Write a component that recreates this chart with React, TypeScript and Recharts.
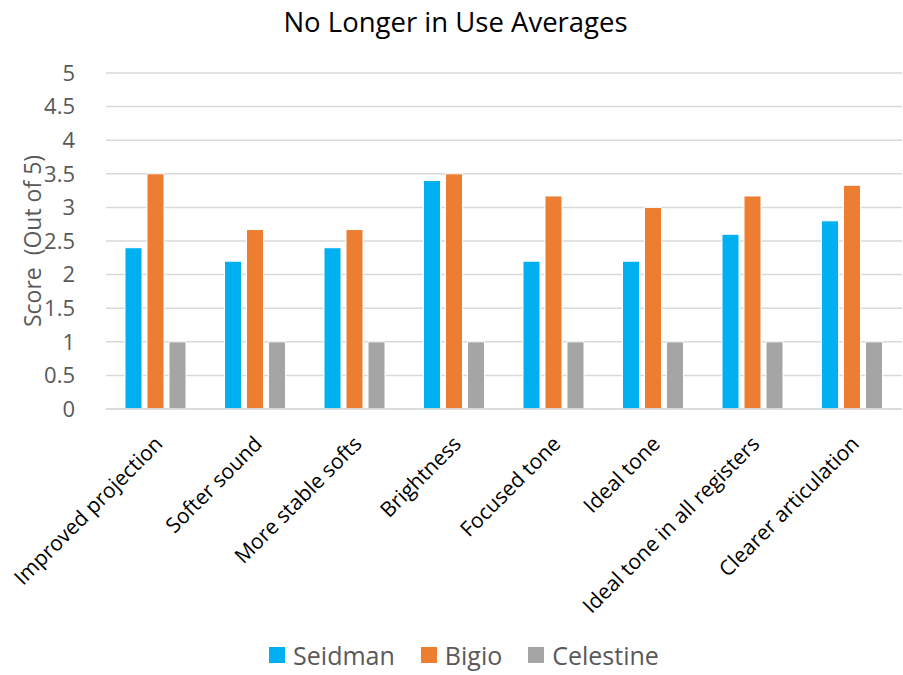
import React from 'react';
import { BarChart, Bar, XAxis, YAxis, CartesianGrid, Legend, Label } from 'recharts';

const categories = [
  'Improved projection', 'Softer sound', 'More stable softs', 'Brightness',
  'Focused tone', 'Ideal tone', 'Ideal tone in all registers', 'Clearer articulation',
];
const seidman = [2.4, 2.2, 2.4, 3.4, 2.2, 2.2, 2.6, 2.8];
const bigio = [3.5, 2.67, 2.67, 3.5, 3.17, 3.0, 3.17, 3.33];
const celestine = [1, 1, 1, 1, 1, 1, 1, 1];
const yTicks = [0, 0.5, 1, 1.5, 2, 2.5, 3, 3.5, 4, 4.5, 5];

const SERIES = [
  { key: 'Seidman', color: '#00b0f0' },
  { key: 'Bigio', color: '#ed7d31' },
  { key: 'Celestine', color: '#a5a5a5' },
];

const data = categories.map((c, i) => ({
  name: c,
  Seidman: seidman[i],
  Bigio: bigio[i],
  Celestine: celestine[i],
}));

const FONT = '"Open Sans", "Noto Sans", sans-serif';

// rotated category labels, end of text sits just under the tick
function XTick(props: any) {
  const { x, y, payload } = props;
  return (
    <g transform={`translate(${x + 3},${y + 23})`}>
      <text textAnchor="end" transform="rotate(-45)" dy="0.35em" fill="#000" fontSize={21} fontFamily={FONT}>
        {payload.value}
      </text>
    </g>
  );
}

function YTick(props: any) {
  const { x, y, payload } = props;
  return (
    <text x={x - 23} y={y} dy="0.35em" textAnchor="end" fill="#595959" fontSize={22} fontFamily={FONT}>
      {payload.value}
    </text>
  );
}

function LegendBox() {
  return (
    <div style={{ display: 'flex', justifyContent: 'center', alignItems: 'center', height: 40, paddingLeft: 26, boxSizing: 'border-box', fontFamily: FONT, fontSize: 25, color: '#595959' }}>
      {SERIES.map((s) => (
        <div key={s.key} style={{ display: 'flex', alignItems: 'center', margin: '0 13px' }}>
          <span style={{ width: 16, height: 16, background: s.color, display: 'inline-block', marginRight: 8 }} />
          <span>{s.key}</span>
        </div>
      ))}
    </div>
  );
}

export default function App() {
  return (
    <div style={{ position: 'absolute', left: 0, top: 0, width: 903, height: 675, background: '#fff' }}>
      <div style={{ position: 'absolute', top: 2, left: 4, width: 903, textAlign: 'center', fontFamily: FONT, fontSize: 27.5, color: '#000', lineHeight: '40px' }}>
        No Longer in Use Averages
      </div>
      <BarChart width={903} height={675} data={data} margin={{ top: 73, right: 1, left: 0, bottom: 0 }}
        barCategoryGap={19} barGap={5}>
        <CartesianGrid vertical={false} stroke="#d9d9d9" strokeWidth={1.5} />
        <XAxis dataKey="name" height={226} interval={0} tick={<XTick />} tickLine={false}
          axisLine={{ stroke: '#d9d9d9', strokeWidth: 1.5 }} />
        <YAxis width={106} domain={[0, 5]} ticks={yTicks} tick={<YTick />} tickLine={false} axisLine={false}>
          <Label content={(p: any) => {
            const vb = p.viewBox;
            const cx = vb.x + 33;
            const cy = vb.y + vb.height / 2;
            return (
              <text x={cx} y={cy} transform={`rotate(-90 ${cx} ${cy})`} textAnchor="middle" dy="0.35em"
                fill="#595959" fontSize={23} fontFamily={FONT} style={{ whiteSpace: 'pre' }}>
                {'Score  (Out of 5)'}
              </text>
            );
          }} />
        </YAxis>
        <Legend verticalAlign="bottom" content={() => <LegendBox />} />
        {SERIES.map((s) => (
          <Bar key={s.key} dataKey={s.key} fill={s.color} stroke="#fff" strokeWidth={1} isAnimationActive={false} />
        ))}
      </BarChart>
    </div>
  );
}
